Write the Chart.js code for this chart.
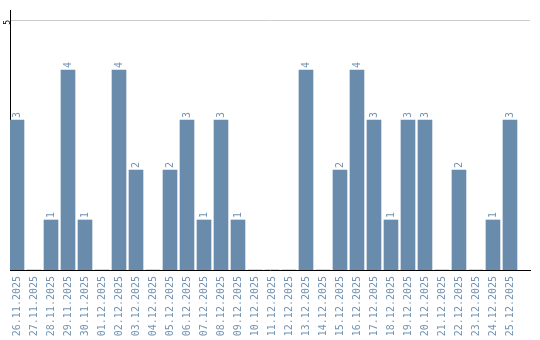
<!DOCTYPE html>
<html>
<head>
<meta charset="utf-8">
<script src="https://cdn.jsdelivr.net/npm/chart.js@4"></script>
<style>
  body { margin: 0; background: #fff; }
  #wrap { width: 540px; height: 340px; }
</style>
</head>
<body>
<div id="wrap"><canvas id="barChart" width="540" height="340"></canvas></div>
<script>
var days = ['26.11.2025', '27.11.2025', '28.11.2025', '29.11.2025', '30.11.2025',
    '01.12.2025', '02.12.2025', '03.12.2025', '04.12.2025', '05.12.2025',
    '06.12.2025', '07.12.2025', '08.12.2025', '09.12.2025', '10.12.2025',
    '11.12.2025', '12.12.2025', '13.12.2025', '14.12.2025', '15.12.2025',
    '16.12.2025', '17.12.2025', '18.12.2025', '19.12.2025', '20.12.2025',
    '21.12.2025', '22.12.2025', '23.12.2025', '24.12.2025', '25.12.2025'];
var counts = [3, 0, 1, 4, 1, 0, 4, 2, 0, 2, 3, 1, 3, 1, 0, 0, 0, 4, 0, 2, 4, 3, 1, 3, 3, 0, 2, 0, 1, 3];
var yTicks = [5];

var barColor = '#6a8cac';
var textColor = '#7393b3';
var monoFont = '"DejaVu Sans Mono"';

// value written above each bar, turned like the axis labels
var valueLabels = {
    id: 'valueLabels',
    afterDatasetsDraw: function(chart) {
        var ctx = chart.ctx;
        chart.getDatasetMeta(0).data.forEach(function(bar, i) {
            if (!counts[i]) return;
            ctx.save();
            ctx.translate(bar.x, bar.y - 2);
            ctx.rotate(-Math.PI / 2);
            ctx.font = '10px ' + monoFont;
            ctx.fillStyle = textColor;
            ctx.textAlign = 'left';
            ctx.textBaseline = 'middle';
            ctx.fillText(String(counts[i]), 0, 0);
            ctx.restore();
        });
    }
};

window.onload = function() {
    var ctx = document.getElementById('barChart').getContext('2d');
    new Chart(ctx, {
        type: 'bar',
        data: {
            labels: days,
            datasets: [{
                data: counts,
                backgroundColor: barColor,
                barThickness: 14
            }]
        },
        options: {
            responsive: false,
            animation: false,
            layout: { padding: { top: 10, right: 10, left: 0, bottom: 0 } },
            plugins: {
                legend: { display: false },
                tooltip: { enabled: false }
            },
            scales: {
                x: {
                    grid: { display: false, drawTicks: false },
                    border: { color: '#000', width: 1 },
                    ticks: {
                        color: textColor,
                        font: { family: 'DejaVu Sans Mono', size: 10 },
                        minRotation: 90,
                        maxRotation: 90,
                        autoSkip: false,
                        padding: 6
                    },
                    afterBuildTicks: function(s) {
                        s._startValue = -0.412;
                        s._valueRange = 30.59;
                    },
                    afterFit: function(s) { s.height = 70; }
                },
                y: {
                    min: 0,
                    max: 5.2,
                    afterBuildTicks: function(s) {
                        s.ticks = yTicks.map(function(v) { return { value: v }; });
                    },
                    afterFit: function(s) { s.width = 10; },
                    grid: { color: '#cccccc', drawTicks: false },
                    border: { color: '#000', width: 1 },
                    ticks: {
                        color: '#000',
                        font: { family: 'DejaVu Sans Mono', size: 8 },
                        minRotation: 90,
                        maxRotation: 90,
                        padding: 2
                    }
                }
            }
        },
        plugins: [valueLabels]
    });
};
</script>
</body>
</html>
